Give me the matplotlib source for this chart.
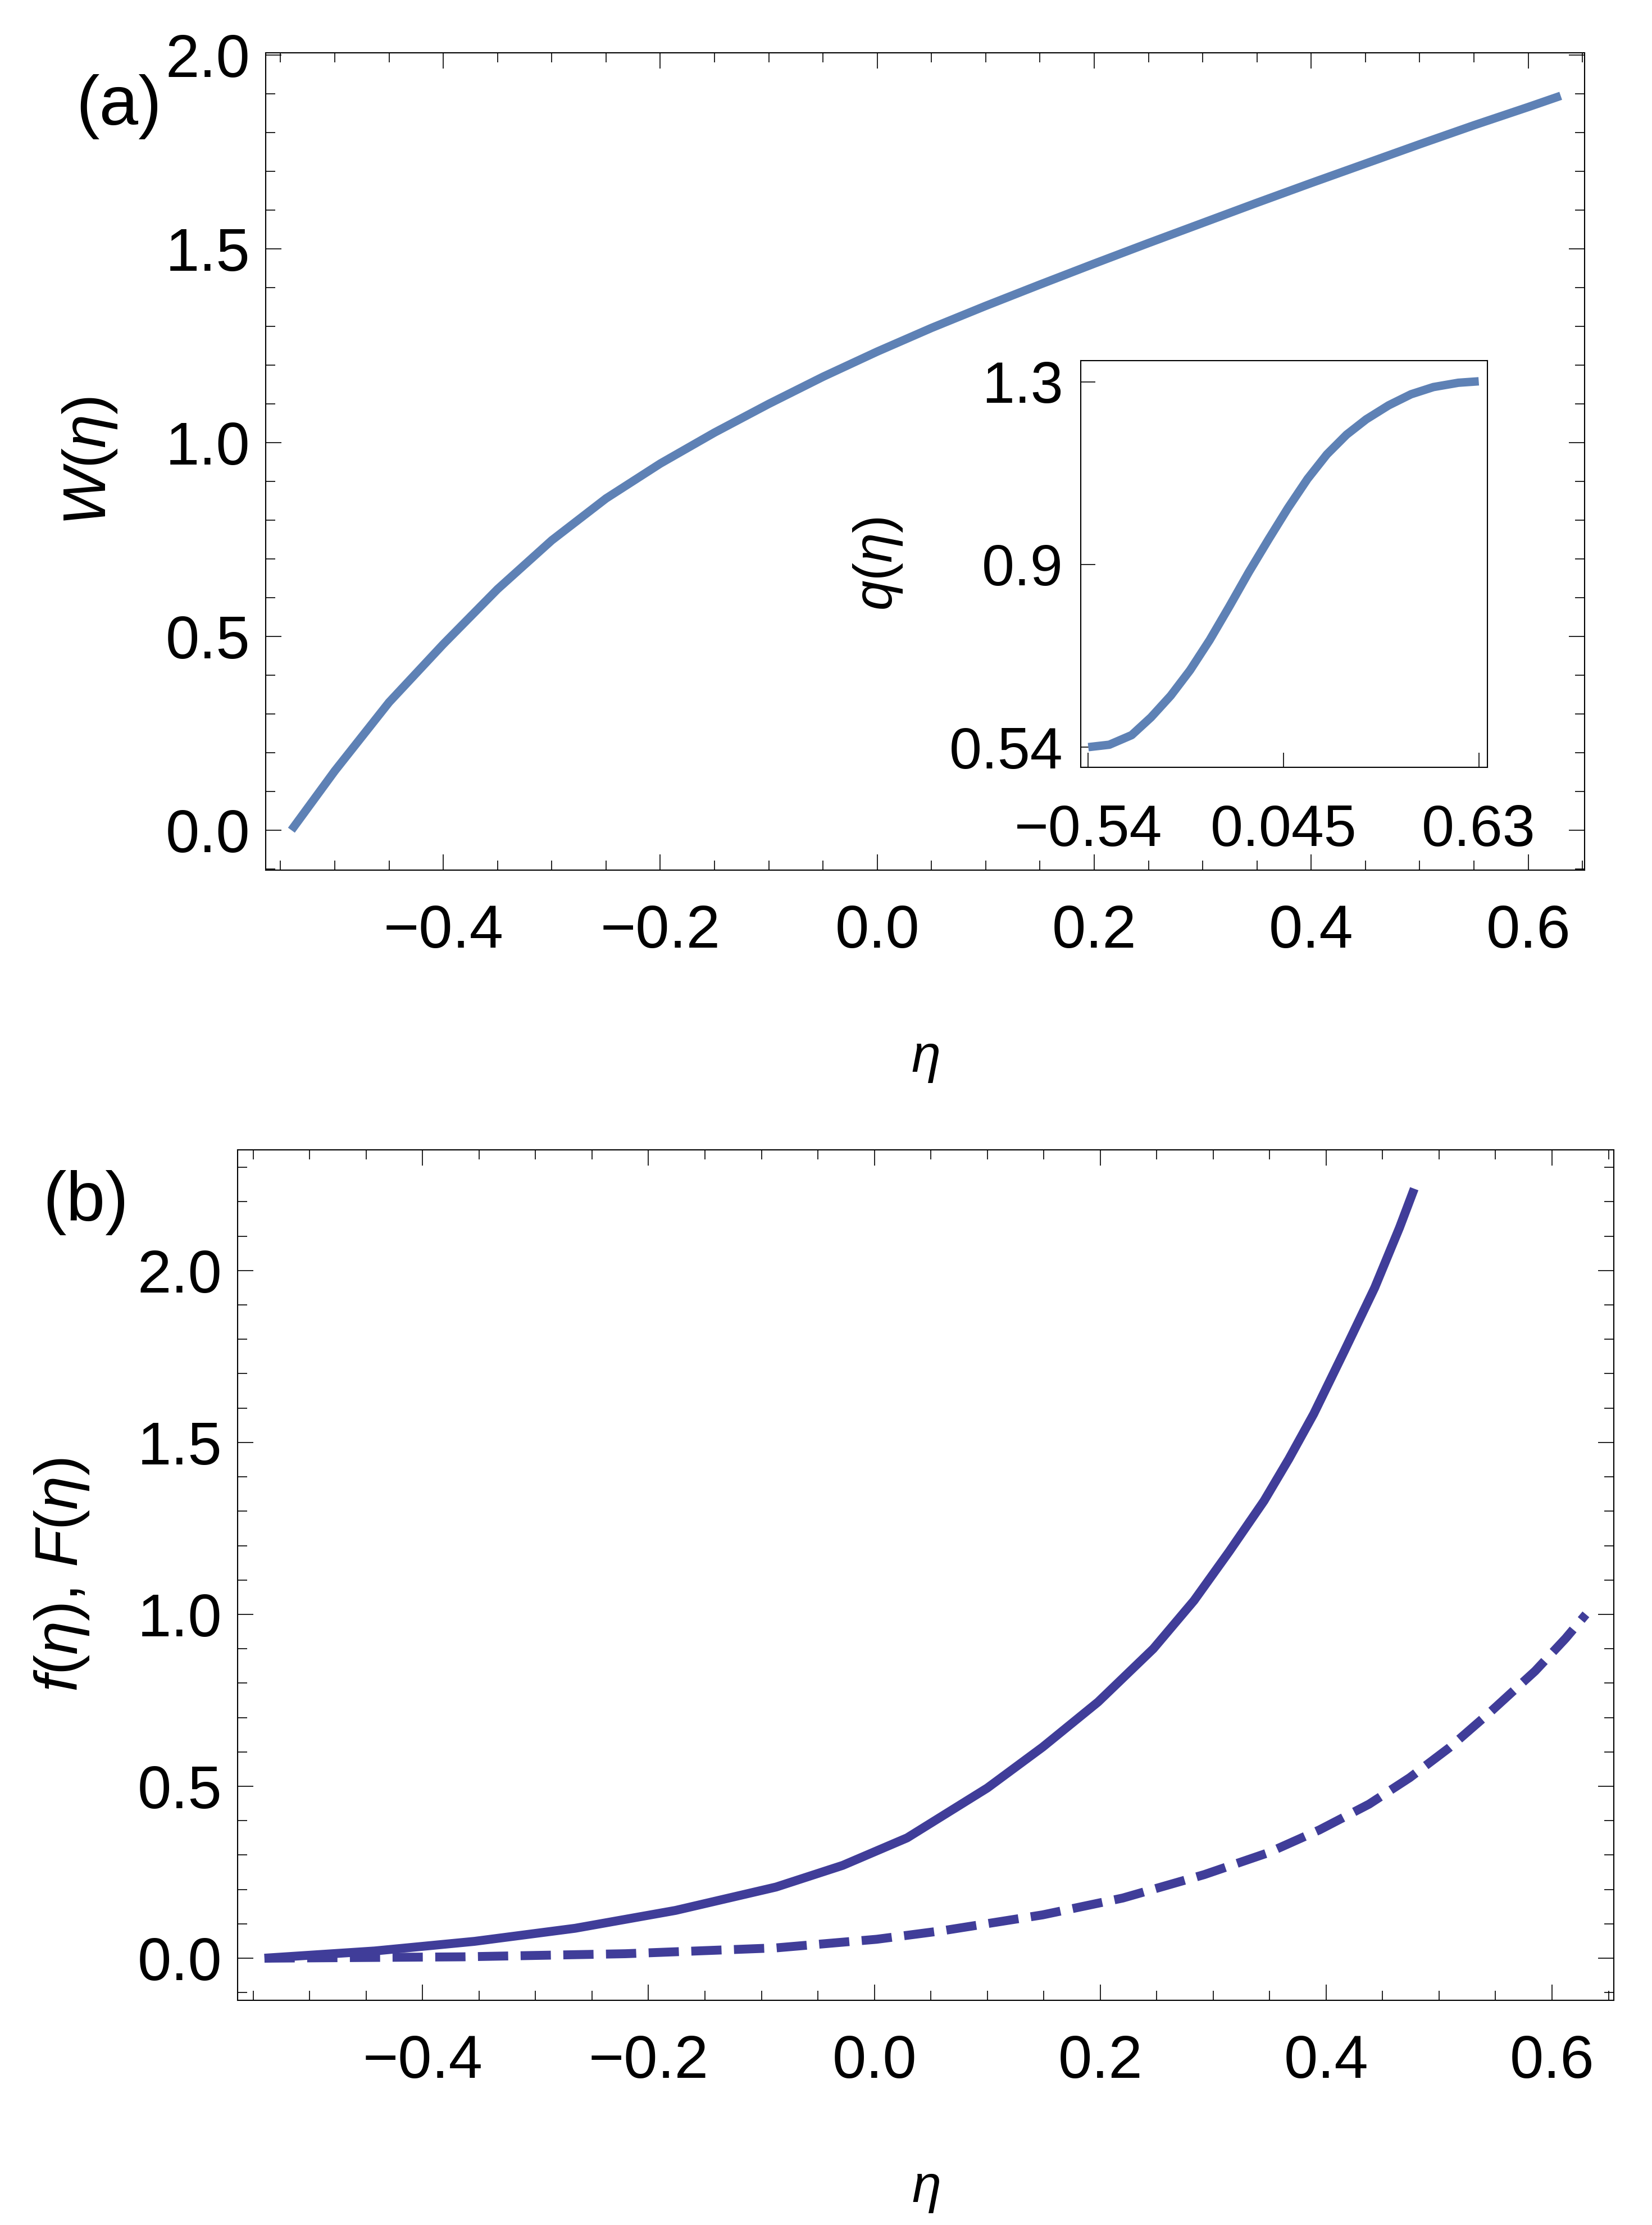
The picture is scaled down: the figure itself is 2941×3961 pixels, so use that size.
import matplotlib
matplotlib.use("Agg")
import matplotlib.pyplot as plt
from matplotlib.ticker import MultipleLocator

plt.rcParams['font.family'] = ['Liberation Sans', 'DejaVu Sans']
plt.rcParams['mathtext.fontset'] = 'custom'
plt.rcParams['mathtext.rm'] = 'Liberation Sans'
plt.rcParams['mathtext.it'] = 'Liberation Sans:italic'
plt.rcParams['mathtext.bf'] = 'Liberation Sans:bold'

# panel (a): W(eta)
eta_w = [-0.54, -0.50, -0.45, -0.40, -0.35, -0.30, -0.25, -0.20, -0.15, -0.10,
         -0.05, 0.00, 0.05, 0.10, 0.15, 0.20, 0.25, 0.30, 0.35, 0.40,
         0.45, 0.50, 0.55, 0.60, 0.63]
w_vals = [0.0, 0.153, 0.330, 0.480, 0.622, 0.748, 0.856, 0.946, 1.026, 1.100,
          1.170, 1.235, 1.296, 1.353, 1.408, 1.462, 1.515, 1.567, 1.619, 1.670,
          1.720, 1.770, 1.819, 1.866, 1.895]

# inset: q(eta)
eta_q = [-0.54, -0.477, -0.410, -0.352, -0.293, -0.235, -0.176, -0.117, -0.059, 0.0,
         0.058, 0.117, 0.175, 0.234, 0.293, 0.360, 0.427, 0.494, 0.569, 0.63]
q_vals = [0.540, 0.545, 0.565, 0.602, 0.647, 0.700, 0.763, 0.833, 0.904, 0.972,
          1.037, 1.098, 1.149, 1.190, 1.222, 1.251, 1.274, 1.289, 1.298, 1.301]

# panel (b): f(eta) solid, F(eta) dashed
eta_f = [-0.54, -0.4425, -0.354, -0.265, -0.176, -0.087, -0.028, 0.029, 0.100, 0.149,
         0.198, 0.247, 0.283, 0.314, 0.345, 0.367, 0.389, 0.416, 0.443, 0.465, 0.478]
f_vals = [0.0, 0.021, 0.049, 0.087, 0.139, 0.207, 0.270, 0.350, 0.495, 0.614,
          0.745, 0.900, 1.040, 1.182, 1.330, 1.452, 1.583, 1.765, 1.950, 2.125, 2.238]

eta_F = [-0.54, -0.364, -0.2205, -0.087, 0.002, 0.0605, 0.149, 0.220, 0.292, 0.349,
         0.394, 0.438, 0.474, 0.509, 0.545, 0.585, 0.612, 0.63]
F_vals = [0.0, 0.004, 0.013, 0.030, 0.055, 0.080, 0.126, 0.175, 0.243, 0.307,
          0.373, 0.448, 0.525, 0.612, 0.715, 0.835, 0.930, 1.0]

x_ticks = [-0.4, -0.2, 0.0, 0.2, 0.4, 0.6]
x_tick_labels = ['\u22120.4', '\u22120.2', '0.0', '0.2', '0.4', '0.6']
y_ticks_a = [0.0, 0.5, 1.0, 1.5, 2.0]
y_ticks_b = [0.0, 0.5, 1.0, 1.5, 2.0]
y_tick_labels = ['0.0', '0.5', '1.0', '1.5', '2.0']

inset_x_ticks = [-0.54, 0.045, 0.63]
inset_x_labels = ['\u22120.54', '0.045', '0.63']
inset_y_ticks = [0.54, 0.92, 1.30]
inset_y_labels = ['0.54', '0.9', '1.3']

W, H, DPI = 2941, 3961, 300
fig = plt.figure(figsize=(W / DPI, H / DPI), dpi=DPI)


def px_rect(l, t, r, b):
    return [l / W, 1 - b / H, (r - l) / W, (b - t) / H]


ax1 = fig.add_axes(px_rect(473, 94, 2821, 1549))
ax2 = fig.add_axes(px_rect(423, 2047, 2873, 3561))
axin = fig.add_axes(px_rect(1924, 642, 2648, 1366))

c_top = '#5E81B5'
c_bot = '#403D99'

ax1.plot(eta_w, w_vals, color=c_top, lw=3.6, solid_capstyle='butt',
         solid_joinstyle='round')
axin.plot(eta_q, q_vals, color=c_top, lw=3.6, solid_capstyle='butt',
          solid_joinstyle='round')
ax2.plot(eta_f, f_vals, color=c_bot, lw=3.8, solid_capstyle='butt',
         solid_joinstyle='round')
ax2.plot(eta_F, F_vals, color=c_bot, lw=3.8, linestyle=(0, (3.4, 1.4)),
         dash_capstyle='butt')


def style_main(ax, yticks):
    ax.set_xticks(x_ticks, x_tick_labels)
    ax.set_yticks(yticks, y_tick_labels)
    ax.xaxis.set_minor_locator(MultipleLocator(0.05))
    ax.yaxis.set_minor_locator(MultipleLocator(0.1))
    ax.tick_params(which='both', direction='in', top=True, right=True,
                   width=0.4, labelsize=26)
    ax.tick_params(which='major', length=6.7)
    ax.tick_params(which='minor', length=4.1)
    ax.tick_params(axis='x', which='major', pad=14.5)
    ax.tick_params(axis='y', which='major', pad=6.7)
    for s in ax.spines.values():
        s.set_linewidth(0.5)


style_main(ax1, y_ticks_a)
ax1.set_xlim(-0.5637, 0.652)
ax1.set_ylim(-0.103, 2.006)
ax1.set_ylabel(r'$W(\eta)$', fontsize=26, va='center')
ax1.yaxis.set_label_coords((160 - 473) / 2348, 0.5)
ax1.set_xlabel(r'$\eta$', fontsize=22.5, va='center')
ax1.xaxis.set_label_coords(0.5, (1549 - 1886) / 1455)

style_main(ax2, y_ticks_b)
ax2.set_xlim(-0.5638, 0.6547)
ax2.set_ylim(-0.1225, 2.351)
ax2.set_ylabel(r'$f(\eta)$, $F(\eta)$', fontsize=26, va='center')
ax2.yaxis.set_label_coords((110 - 423) / 2450, 0.5)
ax2.set_xlabel(r'$\eta$', fontsize=22.5, va='center')
ax2.xaxis.set_label_coords(0.5, (3561 - 3898) / 1514)

# inset
axin.set_xlim(-0.5626, 0.656)
axin.set_ylim(0.498, 1.344)
axin.set_xticks(inset_x_ticks, inset_x_labels)
axin.set_yticks(inset_y_ticks, inset_y_labels)
axin.tick_params(which='major', direction='in', length=6.2, width=0.4, labelsize=25)
axin.tick_params(axis='x', pad=15.5)
axin.tick_params(axis='y', pad=7.5)
for s in axin.spines.values():
    s.set_linewidth(0.5)
axin.set_ylabel(r'$q(\eta)$', fontsize=23, va='center')
axin.yaxis.set_label_coords((1563 - 1924) / 724, 0.5)

fig.text(212 / W, 1 - 190 / H, '(a)', fontsize=30, ha='center', va='center')
fig.text(153 / W, 1 - 2141 / H, '(b)', fontsize=30, ha='center', va='center')

fig.savefig('out.png', dpi=DPI)
